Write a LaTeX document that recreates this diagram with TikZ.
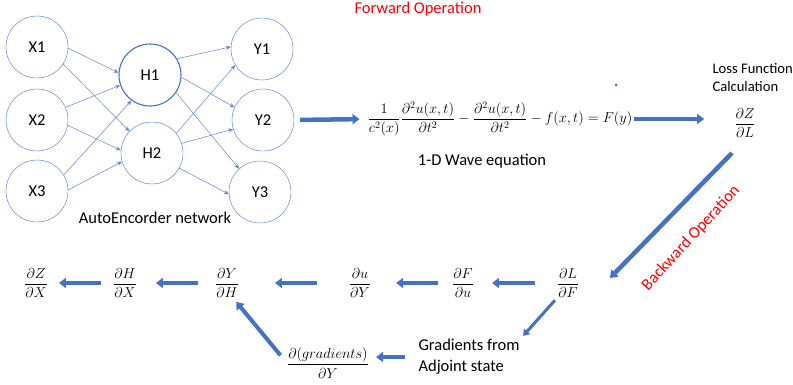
\documentclass[tikz,border=0pt]{standalone}
\usepackage{amsmath,amssymb}
\usepackage[no-math]{fontspec}
\setmainfont{Carlito}
\usepackage{tikz}
\usetikzlibrary{arrows.meta,positioning,calc}
\definecolor{netBlue}{RGB}{68,114,196}
\definecolor{opRed}{RGB}{255,0,0}
\tikzset{
  neuron/.style={circle, draw=netBlue, thin, minimum size=62pt, inner sep=0pt, font=\fontsize{16.5}{18}\selectfont},
  wire/.style={netBlue!85, line width=0.5pt, -{Stealth[length=5pt,width=4pt]}},
  bigarrow/.style={netBlue, line width=4.5pt, -{Triangle[length=7pt,width=10pt]}},
  mathnode/.style={inner sep=0pt, font=\fontsize{14.5}{17}\selectfont},
  txt/.style={font=\fontsize{16.5}{20}\selectfont},
  optxt/.style={text=opRed, font=\fontsize{16.5}{20}\selectfont}
}
\begin{document}
\begin{tikzpicture}[x=1pt,y=-1pt]
        \useasboundingbox (0,0) rectangle (793,384);
        % --- TOP: autoencoder network ---
        \node[neuron] (X1) at (37,47) {X1};
        \node[neuron] (X2) at (37,120) {X2};
        \node[neuron] (X3) at (37,191) {X3};
        \node[neuron, line width=1.1pt] (H1) at (150,75) {H1};
        \node[neuron] (H2) at (152,153) {H2};
        \node[neuron] (Y1) at (262,49) {Y1};
        \node[neuron] (Y2) at (263,120) {Y2};
        \node[neuron] (Y3) at (260,192) {Y3};
        \node[txt] (netlabel) at (155,218) {AutoEncorder network};
        % Connections (weights)
        \foreach \a/\sa/\b/\sb in {X1/-2/H1/176, X1/-33/H2/136, X2/24/H1/199, X2/-10/H2/175,
                                   X3/31/H1/234, X3/2/H2/196,
                                   H1/31/Y1/176, H1/-4/Y2/156, H1/-34/Y3/132,
                                   H2/39/Y1/211, H2/18/Y2/197, H2/-29/Y3/184}
          \draw[wire] (\a.\sa) -- (\b.\sb);
        % --- Forward pass ---
        \node[optxt] (fwd) at (418,9) {Forward Operation};
        \node[mathnode] (eq) at (500,119)
          {$\dfrac{1}{c^2(x)}\dfrac{\partial^2 u(x,t)}{\partial t^2}-\dfrac{\partial^2 u(x,t)}{\partial t^2}-f(x,t)=F(y)$};
        \node[txt] (eqlabel) at (482,161) {1-D Wave equation};
        \node[circle, fill=netBlue, inner sep=0pt, minimum size=3pt] (dot) at (616,85) {};
        \node[anchor=west, align=left, font=\fontsize{14.6}{18}\selectfont] (loss) at (709,78)
          {Loss Function\\Calculation};
        \node[mathnode] (dZdL) at (745,123) {$\dfrac{\partial Z}{\partial L}$};
        \draw[bigarrow, shorten <=6pt, shorten >=8pt] (Y2.east) -- (eq.west);
        \draw[bigarrow, shorten <=2pt, shorten >=30pt] (eq.east) -- (eq.east -| dZdL.west);
        % --- Backward pass ---
        \node[mathnode] (dLdF) at (568,283) {$\dfrac{\partial L}{\partial F}$};
        \node[mathnode] (dFdu) at (463,283) {$\dfrac{\partial F}{\partial u}$};
        \node[mathnode] (dudY) at (360,283) {$\dfrac{\partial u}{\partial Y}$};
        \node[mathnode] (dYdH) at (227,283) {$\dfrac{\partial Y}{\partial H}$};
        \node[mathnode] (dHdX) at (125,283) {$\dfrac{\partial H}{\partial X}$};
        \node[mathnode] (dZdX) at (36,283) {$\dfrac{\partial Z}{\partial X}$};
        \node[txt, align=left, anchor=west, font=\fontsize{16.5}{21}\selectfont] (grad) at (415,357)
          {Gradients from\\Adjoint state};
        \node[mathnode] (gradfrac) at (328,363) {$\dfrac{\partial(gradients)}{\partial Y}$};
        \draw[bigarrow] ([xshift=-13pt,yshift=-30pt]dZdL.center) -- ([xshift=42pt,yshift=5pt]dLdF.center);
        \node[optxt, rotate=47.5] (bwd) at (691,238) {Backward Operation};
        \draw[bigarrow, shorten <=22pt, shorten >=18pt] (dLdF) -- (dFdu);
        \draw[bigarrow, shorten <=14pt, shorten >=25pt] (dFdu) -- (dudY);
        \draw[bigarrow, shorten <=32pt, shorten >=36pt] (dudY) -- (dYdH);
        \draw[bigarrow, shorten <=17pt, shorten >=19pt] (dYdH) -- (dHdX);
        \draw[bigarrow, shorten <=12pt, shorten >=11pt] (dHdX) -- (dZdX);
        \draw[netBlue, line width=3pt, -{Triangle[length=6pt,width=8pt]}, shorten <=3pt]
          (dLdF.south west) -- (grad.north east);
        \draw[bigarrow, line width=4pt, shorten <=10pt, shorten >=7pt] (grad.west) -- (grad.west -| gradfrac.east);
        \draw[bigarrow, line width=4pt, shorten <=10pt, shorten >=5pt] (gradfrac.west) -- ([xshift=6pt]dYdH.south);
\end{tikzpicture}
\end{document}
